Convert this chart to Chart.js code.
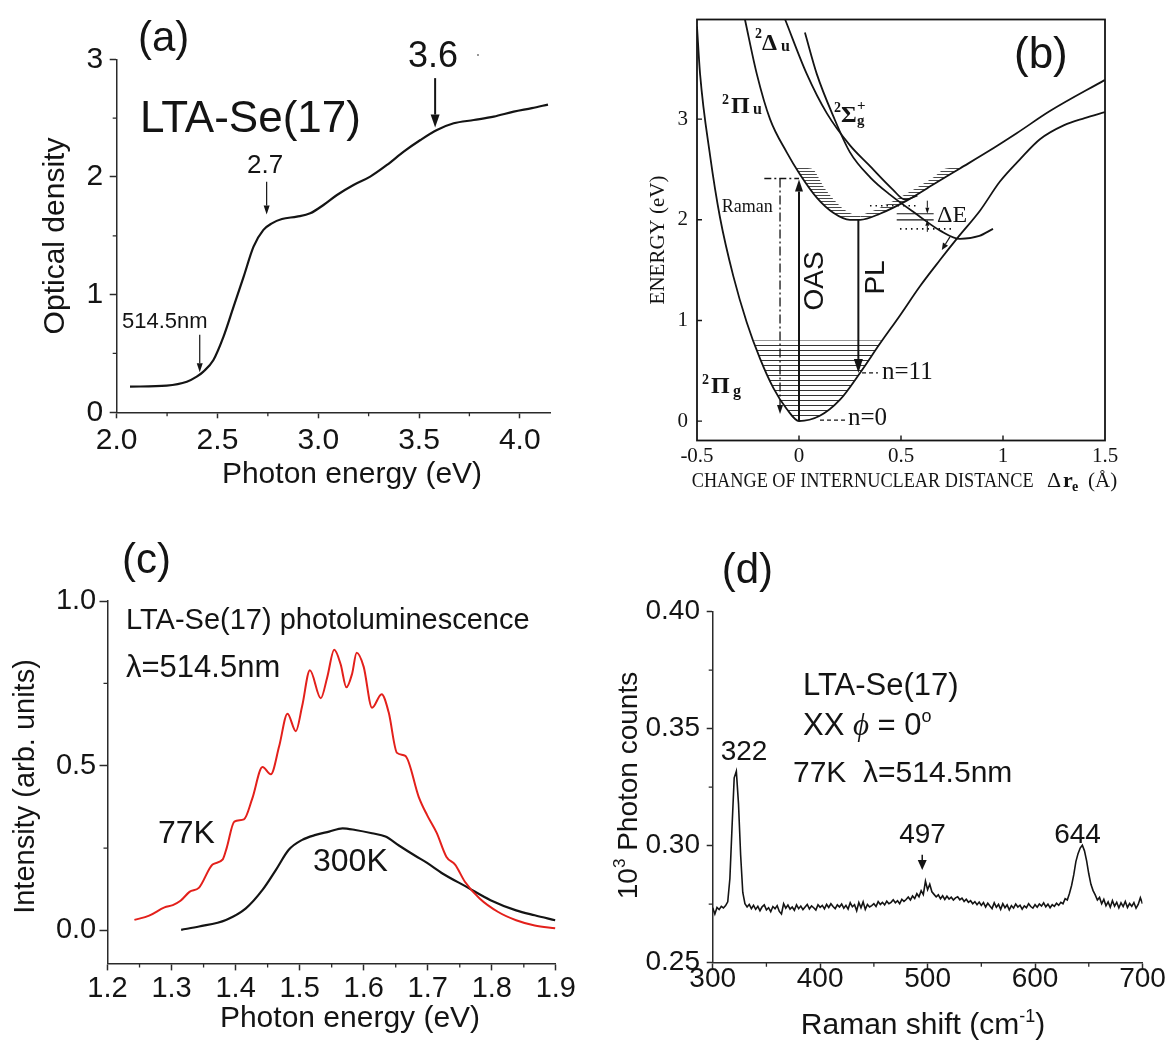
<!DOCTYPE html>
<html>
<head>
<meta charset="utf-8">
<title>LTA-Se(17) optical spectra</title>
<script src="https://cdn.jsdelivr.net/npm/chart.js@4.4.1/dist/chart.umd.min.js"></script>
<style>
  body { margin: 0; background: #fff; }
  #page { position: relative; width: 1169px; height: 1040px; overflow: hidden; background: #fff; }
  canvas { position: absolute; }
</style>
</head>
<body>
<div id="page">
  <canvas id="panelA" width="580" height="540" style="left:0;top:0"></canvas>
  <canvas id="panelB" width="579" height="540" style="left:590px;top:0"></canvas>
  <canvas id="panelC" width="580" height="500" style="left:0;top:540px"></canvas>
  <canvas id="panelD" width="589" height="500" style="left:580px;top:540px"></canvas>
</div>
<script>
// (a) optical absorption
const absEnergy = [2.066, 2.248, 2.348, 2.397, 2.43, 2.48, 2.53, 2.58, 2.63, 2.679, 2.728, 2.77, 2.82, 2.894, 2.96, 3.026, 3.093, 3.175, 3.258, 3.341, 3.424, 3.507, 3.589, 3.672, 3.772, 3.871, 3.97, 4.06, 4.14];
const absDensity = [0.218, 0.227, 0.26, 0.303, 0.346, 0.445, 0.643, 0.898, 1.153, 1.408, 1.55, 1.606, 1.643, 1.663, 1.691, 1.762, 1.847, 1.932, 2.003, 2.102, 2.215, 2.314, 2.399, 2.456, 2.484, 2.513, 2.555, 2.585, 2.615];
const absTicksX = [2.0, 2.5, 3.0, 3.5, 4.0];
const absMinorX = [2.25, 2.75, 3.25, 3.75];
const absTicksY = [0, 1, 2, 3];
const absMinorY = [0.5, 1.5, 2.5];
const absMarkAt = [3.58, 2.744, 2.412];
const absMarkFrom = [2.84, 1.96, 0.66];
const absMarkTo = [2.42, 1.68, 0.34];

// (b) potential curves, Δr_e (Å) vs energy (eV)
const pigR = [-0.5, -0.485, -0.436, -0.387, -0.322, -0.256, -0.191, -0.126, -0.06, 0, 0.1, 0.2, 0.299, 0.397, 0.495, 0.593, 0.691, 0.781, 0.887, 0.985, 1.083, 1.181, 1.3, 1.4, 1.5];
const pigE = [3.92, 3.45, 2.64, 2.02, 1.44, 0.98, 0.62, 0.33, 0.12, 0, 0.05, 0.21, 0.478, 0.77, 1.05, 1.34, 1.6, 1.83, 2.09, 2.38, 2.6, 2.8, 2.94, 3.01, 3.07];
const piuR = [-0.265, -0.207, -0.142, -0.06, 0.005, 0.087, 0.168, 0.25, 0.3, 0.397, 0.528, 0.658, 0.789, 0.92, 1.067, 1.23, 1.5];
const piuE = [3.99, 3.45, 3.0, 2.67, 2.45, 2.22, 2.07, 2.0, 2.0, 2.06, 2.19, 2.35, 2.51, 2.67, 2.86, 3.08, 3.39];
const deltaR = [-0.068, 0.038, 0.136, 0.25, 0.34, 0.46, 0.52, 0.58];
const deltaE = [3.99, 3.45, 3.06, 2.74, 2.55, 2.3, 2.2, 2.24];
const sigmaR = [0.029, 0.087, 0.168, 0.25, 0.35, 0.446, 0.58, 0.694, 0.789, 0.884, 0.951];
const sigmaE = [3.86, 3.45, 3.03, 2.67, 2.42, 2.25, 2.05, 1.89, 1.81, 1.84, 1.91];
const wellR = [-0.2235, -0.191, -0.126, -0.06, 0, 0.1, 0.2, 0.299, 0.397, 0.408];
const wellE = [0.8, 0.62, 0.33, 0.12, 0, 0.05, 0.21, 0.478, 0.77, 0.8];
const bandLeftR = [-0.01, 0.005, 0.087, 0.168, 0.25, 0.3];
const bandLeftE = [2.49, 2.45, 2.22, 2.07, 2.0, 2.0];
const bandLeftInR = [-0.01, 0.06, 0.13, 0.21, 0.27, 0.3];
const bandLeftInE = [2.52, 2.51, 2.3, 2.12, 2.05, 2.04];
const bandRightR = [0.3, 0.397, 0.528, 0.658, 0.789];
const bandRightE = [2.0, 2.06, 2.19, 2.35, 2.51];
const bandRightInR = [0.3, 0.397, 0.528, 0.658, 0.72, 0.789];
const bandRightInE = [2.04, 2.12, 2.26, 2.42, 2.51, 2.52];
const stateTicksX = [-0.5, 0, 0.5, 1, 1.5];
const stateInnerX = [0, 0.5, 1];
const stateTicksY = [0, 1, 2, 3];
const oasPath = [[0, 0], [0, 2.40]];
const plPath = [[0.291, 2.0], [0.291, 0.478]];
const ramanPath = [[-0.093, 2.41], [-0.093, 0.07]];
const ramanLevel = [[-0.17, 2.41], [0, 2.41]];
const n11Mark = [[0.309, 0.478], [0.387, 0.478]];
const n0Mark = [[0.103, 0.01], [0.235, 0.01]];
const gapLevels = [2.06, 2.0];
const gapSpan = [0.479, 0.66];
const dottedLevels = [[0.348, 0.577, 2.14], [0.495, 0.755, 1.91]];

// (c) photoluminescence
const pl77Energy = [1.242, 1.265, 1.289, 1.302, 1.314, 1.328, 1.343, 1.364, 1.380, 1.386, 1.398, 1.413, 1.426, 1.442, 1.455, 1.468, 1.481, 1.494, 1.504, 1.516, 1.533, 1.543, 1.554, 1.564, 1.573, 1.582, 1.589, 1.600, 1.613, 1.628, 1.639, 1.652, 1.665, 1.686, 1.699, 1.714, 1.729, 1.743, 1.758, 1.781, 1.810, 1.838, 1.867, 1.899];
const pl77Intensity = [0.032, 0.045, 0.070, 0.077, 0.090, 0.117, 0.130, 0.200, 0.216, 0.250, 0.330, 0.337, 0.400, 0.496, 0.474, 0.559, 0.658, 0.605, 0.682, 0.790, 0.705, 0.768, 0.852, 0.808, 0.738, 0.780, 0.843, 0.800, 0.676, 0.717, 0.662, 0.539, 0.530, 0.405, 0.350, 0.296, 0.224, 0.199, 0.148, 0.097, 0.056, 0.031, 0.015, 0.007];
const pl300Energy = [1.315, 1.343, 1.385, 1.416, 1.442, 1.463, 1.483, 1.504, 1.525, 1.546, 1.567, 1.587, 1.613, 1.634, 1.655, 1.681, 1.699, 1.723, 1.760, 1.798, 1.838, 1.867, 1.899];
const pl300Intensity = [0.002, 0.012, 0.032, 0.067, 0.123, 0.184, 0.245, 0.275, 0.290, 0.300, 0.310, 0.305, 0.295, 0.285, 0.258, 0.226, 0.205, 0.173, 0.133, 0.092, 0.061, 0.046, 0.031];
const plTicksX = [1.2, 1.3, 1.4, 1.5, 1.6, 1.7, 1.8, 1.9];
const plMinorX = [1.25, 1.35, 1.45, 1.55, 1.65, 1.75, 1.85];
const plTicksY = [0, 0.5, 1.0];
const plMinorY = [0.25, 0.75];

// (d) Raman
const ramanShift = [
  300, 302, 304, 306, 308, 310, 312, 314, 316, 318, 320, 322, 324, 326, 328, 330, 332, 334, 336, 338,
  340, 342, 344, 346, 348, 350, 352, 354, 356, 358, 360, 362, 364, 366, 368, 370, 372, 374, 376, 378,
  380, 382, 384, 386, 388, 390, 392, 394, 396, 398, 400, 402, 404, 406, 408, 410, 412, 414, 416, 418,
  420, 422, 424, 426, 428, 430, 432, 434, 436, 438, 440, 442, 444, 446, 448, 450, 452, 454, 456, 458,
  460, 462, 464, 466, 468, 470, 472, 474, 476, 478, 480, 482, 484, 486, 488, 490, 492, 494, 496, 498,
  500, 502, 504, 506, 508, 510, 512, 514, 516, 518, 520, 522, 524, 526, 528, 530, 532, 534, 536, 538,
  540, 542, 544, 546, 548, 550, 552, 554, 556, 558, 560, 562, 564, 566, 568, 570, 572, 574, 576, 578,
  580, 582, 584, 586, 588, 590, 592, 594, 596, 598, 600, 602, 604, 606, 608, 610, 612, 614, 616, 618,
  620, 622, 624, 626, 628, 630, 632, 634, 636, 638, 640, 642, 644, 646, 648, 650, 652, 654, 656, 658,
  660, 662, 664, 666, 668, 670, 672, 674, 676, 678, 680, 682, 684, 686, 688, 690, 692, 694, 696, 698,
  700
];
const ramanCounts = [
  0.2735, 0.2708, 0.2736, 0.2727, 0.2741, 0.2734, 0.2744, 0.2760, 0.2860, 0.3080,
  0.3290, 0.3318, 0.3180, 0.2960, 0.2800, 0.2752, 0.2738, 0.2749, 0.2731, 0.2745,
  0.2728, 0.2741, 0.2722, 0.2739, 0.2747, 0.2726, 0.2735, 0.2718, 0.2740, 0.2731,
  0.2744, 0.2719, 0.2708, 0.2752, 0.2733, 0.2746, 0.2729, 0.2738, 0.2724, 0.2747,
  0.2731, 0.2742, 0.2727, 0.2738, 0.2749, 0.2730, 0.2743, 0.2735, 0.2725, 0.2748,
  0.2737, 0.2745, 0.2730, 0.2749, 0.2736, 0.2752, 0.2740, 0.2731, 0.2747, 0.2738,
  0.2751, 0.2733, 0.2745, 0.2729, 0.2756, 0.2739, 0.2748, 0.2722, 0.2757, 0.2735,
  0.2760, 0.2728, 0.2749, 0.2738, 0.2744, 0.2752, 0.2740, 0.2761, 0.2749, 0.2758,
  0.2747, 0.2763, 0.2752, 0.2758, 0.2769, 0.2756, 0.2765, 0.2752, 0.2771, 0.2762,
  0.2770, 0.2781, 0.2768, 0.2785, 0.2774, 0.2795, 0.2782, 0.2808, 0.2791, 0.2848,
  0.2812, 0.2835, 0.2803, 0.2792, 0.2781, 0.2790, 0.2773, 0.2786, 0.2770, 0.2784,
  0.2772, 0.2780, 0.2768, 0.2777, 0.2782, 0.2769, 0.2776, 0.2762, 0.2771, 0.2758,
  0.2765, 0.2752, 0.2761, 0.2748, 0.2759, 0.2745, 0.2757, 0.2738, 0.2754, 0.2742,
  0.2731, 0.2756, 0.2737, 0.2749, 0.2728, 0.2752, 0.2735, 0.2747, 0.2726, 0.2744,
  0.2733, 0.2751, 0.2738, 0.2746, 0.2729, 0.2743, 0.2735, 0.2752, 0.2740, 0.2733,
  0.2748, 0.2737, 0.2751, 0.2742, 0.2756, 0.2739, 0.2750, 0.2735, 0.2748, 0.2741,
  0.2754, 0.2745, 0.2758, 0.2752, 0.2774, 0.2768, 0.2796, 0.2830, 0.2875, 0.2932,
  0.2966, 0.2990, 0.3002, 0.2978, 0.2935, 0.2880, 0.2835, 0.2808, 0.2790, 0.2768,
  0.2779, 0.2752, 0.2771, 0.2743, 0.2760, 0.2737, 0.2765, 0.2742, 0.2758, 0.2734,
  0.2756, 0.2740, 0.2762, 0.2736, 0.2753, 0.2741, 0.2757, 0.2733, 0.2749, 0.2778,
  0.2752
];
const ramanTicksX = [300, 400, 500, 600, 700];
const ramanMinorX = [350, 450, 550, 650];
const ramanTicksY = [0.25, 0.30, 0.35, 0.40];
const ramanMinorY = [0.275, 0.325, 0.375];
const ramanArrowAt = 495;
const ramanArrowSpan = [0.2961, 0.2896];

const INK = '#141414';
const AXIS = '#2a2a2a';
const RED = '#e3201b';
const CLEAR = 'rgba(0,0,0,0)';
const SANS = "'Liberation Sans', Arial, sans-serif";
const SERIF = "'Liberation Serif', 'Times New Roman', serif";

function pts(xs, ys) {
  return xs.map(function (x, i) { return { x: x, y: ys[i] }; });
}

function curve(xs, ys, color, width, extra) {
  return Object.assign({
    data: pts(xs, ys),
    showLine: true,
    borderColor: color,
    borderWidth: width,
    pointRadius: 0,
    pointHoverRadius: 0,
    fill: false,
    cubicInterpolationMode: 'monotone'
  }, extra || {});
}

function axis(o) {
  return {
    type: 'linear',
    min: o.min,
    max: o.max,
    afterFit: function (scale) {
      if (scale.isHorizontal()) scale.height = o.size; else scale.width = o.size;
    },
    afterBuildTicks: function (scale) {
      scale.ticks = o.ticks.map(function (v) { return { value: v }; });
    },
    grid: { display: o.tick > 0, drawOnChartArea: false, tickLength: o.tick, tickColor: AXIS, tickWidth: 1.5 },
    border: { display: o.border !== false, color: AXIS, width: 1.5 },
    ticks: { color: INK, font: o.font, padding: o.pad, autoSkip: false, maxRotation: 0, callback: o.fmt }
  };
}

function options(pad, xAxis, yAxis) {
  return {
    responsive: false,
    animation: false,
    events: [],
    layout: { padding: pad },
    plugins: { legend: { display: false }, tooltip: { enabled: false } },
    scales: { x: xAxis, y: yAxis }
  };
}

function hatch(gap, color) {
  const c = document.createElement('canvas');
  c.width = 4;
  c.height = gap;
  const g = c.getContext('2d');
  g.fillStyle = color;
  g.fillRect(0, 0, 4, 1);
  return g.createPattern(c, 'repeat');
}

function text(ctx, s, x, y, font, align, color) {
  ctx.font = font;
  ctx.fillStyle = color || INK;
  ctx.textAlign = align || 'left';
  ctx.textBaseline = 'alphabetic';
  ctx.fillText(s, x, y);
}

// parts: [{t, font, dy}] drawn one after another, optionally turned upright
function rich(ctx, parts, x, y, align, vertical) {
  ctx.save();
  ctx.translate(x, y);
  if (vertical) ctx.rotate(-Math.PI / 2);
  let w = 0;
  parts.forEach(function (p) { ctx.font = p.font; p.w = ctx.measureText(p.t).width; w += p.w; });
  let cx = align === 'center' ? -w / 2 : (align === 'right' ? -w : 0);
  parts.forEach(function (p) {
    text(ctx, p.t, cx, p.dy || 0, p.font, 'left');
    cx += p.w;
  });
  ctx.restore();
}

function arrow(ctx, x1, y1, x2, y2, st) {
  const len = st.head, half = st.width / 2;
  const ang = Math.atan2(y2 - y1, x2 - x1);
  const bx = x2 - len * Math.cos(ang), by = y2 - len * Math.sin(ang);
  ctx.save();
  ctx.strokeStyle = INK;
  ctx.fillStyle = INK;
  ctx.lineWidth = st.lw;
  ctx.setLineDash(st.dash || []);
  ctx.beginPath();
  ctx.moveTo(x1, y1);
  ctx.lineTo(bx, by);
  ctx.stroke();
  ctx.setLineDash([]);
  ctx.beginPath();
  ctx.moveTo(x2, y2);
  ctx.lineTo(bx + half * Math.sin(ang), by - half * Math.cos(ang));
  ctx.lineTo(bx - half * Math.sin(ang), by + half * Math.cos(ang));
  ctx.closePath();
  ctx.fill();
  ctx.restore();
}

function segment(ctx, x1, y1, x2, y2, lw, dash) {
  ctx.save();
  ctx.strokeStyle = INK;
  ctx.lineWidth = lw;
  ctx.setLineDash(dash || []);
  ctx.beginPath();
  ctx.moveTo(x1, y1);
  ctx.lineTo(x2, y2);
  ctx.stroke();
  ctx.restore();
}

function minor(ctx, chart, xs, ys, len) {
  const a = chart.chartArea, sx = chart.scales.x, sy = chart.scales.y;
  ctx.save();
  ctx.strokeStyle = AXIS;
  ctx.lineWidth = 1.3;
  ctx.beginPath();
  xs.forEach(function (v) { const p = sx.getPixelForValue(v); ctx.moveTo(p, a.bottom); ctx.lineTo(p, a.bottom + len); });
  ys.forEach(function (v) { const p = sy.getPixelForValue(v); ctx.moveTo(a.left, p); ctx.lineTo(a.left - len, p); });
  ctx.stroke();
  ctx.restore();
}

function drawA(chart) {
  const ctx = chart.ctx, sx = chart.scales.x, sy = chart.scales.y;
  minor(ctx, chart, absMinorX, absMinorY, 4);
  text(ctx, '(a)', 138, 51, '42px ' + SANS);
  text(ctx, 'LTA-Se(17)', 140, 132, '44px ' + SANS);
  text(ctx, '3.6', 408, 67, '36px ' + SANS);
  text(ctx, '·', 478, 60, '18px ' + SANS, 'center', '#888');
  text(ctx, '2.7', 247, 173, '26px ' + SANS);
  text(ctx, '514.5nm', 122, 328, '22px ' + SANS);
  const styles = [{ lw: 2, head: 13, width: 9 }, { lw: 1.2, head: 9, width: 6 }, { lw: 1.2, head: 9, width: 6 }];
  absMarkAt.forEach(function (e, i) {
    const x = sx.getPixelForValue(e);
    arrow(ctx, x, sy.getPixelForValue(absMarkFrom[i]), x, sy.getPixelForValue(absMarkTo[i]), styles[i]);
  });
  text(ctx, 'Photon energy (eV)', 352, 483, '30px ' + SANS, 'center');
  rich(ctx, [{ t: 'Optical density', font: '30px ' + SANS }], 64, 236, 'center', true);
}

function drawB(chart) {
  const ctx = chart.ctx, a = chart.chartArea, sx = chart.scales.x, sy = chart.scales.y;
  const X = function (v) { return sx.getPixelForValue(v); };
  const Y = function (v) { return sy.getPixelForValue(v); };
  ctx.save();
  ctx.strokeStyle = INK;
  ctx.lineWidth = 1.8;
  ctx.strokeRect(a.left, a.top, a.right - a.left, a.bottom - a.top);
  ctx.lineWidth = 1.4;
  ctx.beginPath();
  stateInnerX.forEach(function (v) { ctx.moveTo(X(v), a.bottom); ctx.lineTo(X(v), a.bottom - 5); });
  stateTicksY.forEach(function (v) { ctx.moveTo(a.left, Y(v)); ctx.lineTo(a.left + 5, Y(v)); });
  ctx.stroke();
  ctx.restore();

  arrow(ctx, X(oasPath[0][0]), Y(oasPath[0][1]), X(oasPath[1][0]), Y(oasPath[1][1]), { lw: 2, head: 12, width: 8 });
  arrow(ctx, X(plPath[0][0]), Y(plPath[0][1]), X(plPath[1][0]), Y(plPath[1][1]), { lw: 2, head: 14, width: 9 });
  arrow(ctx, X(ramanPath[0][0]), Y(ramanPath[0][1]), X(ramanPath[1][0]), Y(ramanPath[1][1]), { lw: 1.3, head: 9, width: 6, dash: [9, 3, 2, 3] });
  segment(ctx, X(ramanLevel[0][0]), Y(ramanLevel[0][1]), X(ramanLevel[1][0]), Y(ramanLevel[1][1]), 1.3, [7, 3, 2, 3]);
  segment(ctx, X(n11Mark[0][0]), Y(n11Mark[0][1]), X(n11Mark[1][0]), Y(n11Mark[1][1]), 1.3, [4, 3]);
  segment(ctx, X(n0Mark[0][0]), Y(n0Mark[0][1]), X(n0Mark[1][0]), Y(n0Mark[1][1]), 1.3, [4, 3]);
  gapLevels.forEach(function (e) { segment(ctx, X(gapSpan[0]), Y(e), X(gapSpan[1]), Y(e), 1.2); });
  arrow(ctx, X(0.629), Y(2.19), X(0.629), Y(gapLevels[0]), { lw: 1, head: 6, width: 4 });
  arrow(ctx, X(0.629), Y(1.88), X(0.629), Y(gapLevels[1]), { lw: 1, head: 6, width: 4 });
  dottedLevels.forEach(function (d) { segment(ctx, X(d[0]), Y(d[2]), X(d[1]), Y(d[2]), 1.6, [1.5, 4]); });
  arrow(ctx, X(0.74), Y(1.83), X(0.70), Y(1.70), { lw: 1.2, head: 7, width: 6 });

  text(ctx, '(b)', 424, 68, '44px ' + SANS);
  text(ctx, '2', 165, 38, 'bold 14px ' + SERIF);
  text(ctx, 'Δ', 172, 50, 'bold 24px ' + SERIF);
  text(ctx, 'u', 191, 51, 'bold 16px ' + SERIF);
  text(ctx, '2', 132, 104, 'bold 14px ' + SERIF);
  text(ctx, 'Π', 141, 113, 'bold 24px ' + SERIF);
  text(ctx, 'u', 163, 114, 'bold 16px ' + SERIF);
  text(ctx, '2', 244, 112, 'bold 14px ' + SERIF);
  text(ctx, 'Σ', 251, 122, 'bold 24px ' + SERIF);
  text(ctx, '+', 267, 110, 'bold 15px ' + SERIF);
  text(ctx, 'g', 267, 125, 'bold 15px ' + SERIF);
  text(ctx, '2', 112, 384, 'bold 14px ' + SERIF);
  text(ctx, 'Π', 121, 393, 'bold 24px ' + SERIF);
  text(ctx, 'g', 143, 396, 'bold 16px ' + SERIF);
  text(ctx, 'Raman', 131.7, 212, '18px ' + SERIF);
  rich(ctx, [{ t: 'OAS', font: '28px ' + SANS }], 233, 281, 'center', true);
  rich(ctx, [{ t: 'PL', font: '28px ' + SANS }], 294, 277.5, 'center', true);
  text(ctx, 'n=11', 292, 379, '25px ' + SERIF);
  text(ctx, 'n=0', 258, 425, '25px ' + SERIF);
  text(ctx, 'ΔE', 347, 222, '24px ' + SERIF);

  rich(ctx, [{ t: 'ENERGY (eV)', font: '21px ' + SERIF }], 74, 240, 'center', true);
  ctx.save();
  ctx.translate(101.7, 486.7);
  ctx.scale(0.83, 1);
  text(ctx, 'CHANGE OF INTERNUCLEAR DISTANCE', 0, 0, '22px ' + SERIF);
  ctx.restore();
  text(ctx, 'Δ', 457, 486.7, '22px ' + SERIF);
  text(ctx, 'r', 473, 486.7, 'bold 22px ' + SERIF);
  text(ctx, 'e', 482, 491, 'bold 14px ' + SERIF);
  text(ctx, '(Å)', 498, 486.7, '21px ' + SERIF);
}

function drawC(chart) {
  const ctx = chart.ctx;
  minor(ctx, chart, plMinorX, plMinorY, 4);
  text(ctx, '(c)', 122, 33, '42px ' + SANS);
  text(ctx, 'LTA-Se(17) photoluminescence', 126, 89, '29px ' + SANS);
  text(ctx, 'λ=514.5nm', 126, 137, '31px ' + SANS);
  text(ctx, '77K', 158, 303, '32px ' + SANS);
  text(ctx, '300K', 313, 331, '32px ' + SANS);
  text(ctx, 'Photon energy (eV)', 350, 487, '30px ' + SANS, 'center');
  rich(ctx, [{ t: 'Intensity (arb. units)', font: '29px ' + SANS }], 34, 246.5, 'center', true);
}

function drawD(chart) {
  const ctx = chart.ctx, sx = chart.scales.x, sy = chart.scales.y;
  minor(ctx, chart, ramanMinorX, ramanMinorY, 4);
  text(ctx, '(d)', 141.7, 43, '42px ' + SANS);
  text(ctx, 'LTA-Se(17)', 223, 155, '31px ' + SANS);
  rich(ctx, [
    { t: 'XX ', font: '31px ' + SANS },
    { t: 'ϕ', font: 'italic 31px ' + SERIF },
    { t: ' = 0', font: '31px ' + SANS },
    { t: 'o', font: '18px ' + SANS, dy: -13 }
  ], 223, 195, 'left');
  text(ctx, '77K  λ=514.5nm', 213, 242, '30px ' + SANS);
  text(ctx, '322', 164, 220, '28px ' + SANS, 'center');
  text(ctx, '497', 342.5, 303, '28px ' + SANS, 'center');
  text(ctx, '644', 497.5, 303, '28px ' + SANS, 'center');
  const ax = sx.getPixelForValue(ramanArrowAt);
  arrow(ctx, ax, sy.getPixelForValue(ramanArrowSpan[0]), ax, sy.getPixelForValue(ramanArrowSpan[1]), { lw: 1.5, head: 10, width: 9 });
  rich(ctx, [
    { t: 'Raman shift (cm', font: '30px ' + SANS },
    { t: '-1', font: '18px ' + SANS, dy: -12 },
    { t: ')', font: '30px ' + SANS }
  ], 343, 494, 'center');
  rich(ctx, [
    { t: '10', font: '28px ' + SANS },
    { t: '3', font: '17px ' + SANS, dy: -12 },
    { t: ' Photon counts', font: '28px ' + SANS }
  ], 57, 245.5, 'center', true);
}

const fineHatch = hatch(3, '#4a4a4a');
const wellHatch = hatch(5, '#333');

new Chart(document.getElementById('panelA'), {
  type: 'scatter',
  data: { datasets: [curve(absEnergy, absDensity, INK, 2.2)] },
  options: options({ top: 59.3, right: 30, left: 0, bottom: 0 },
    axis({ min: 2, max: 4.15, size: 127.7, ticks: absTicksX, tick: 6, pad: 7, font: { family: SANS, size: 30, lineHeight: 1 }, fmt: function (v) { return v.toFixed(1); } }),
    axis({ min: 0, max: 3, size: 116.7, ticks: absTicksY, tick: 7, pad: 6.5, font: { family: SANS, size: 30, lineHeight: 1 }, fmt: function (v) { return String(v); } })),
  plugins: [{ id: 'notesA', afterDraw: drawA }]
});

new Chart(document.getElementById('panelB'), {
  type: 'scatter',
  data: {
    datasets: [
      curve(pigR, pigE, INK, 1.8),
      curve(piuR, piuE, INK, 1.8),
      curve(deltaR, deltaE, INK, 1.8),
      curve(sigmaR, sigmaE, INK, 1.8),
      curve(wellR, wellE, CLEAR, 1, { fill: { value: 0.8 }, backgroundColor: wellHatch }),
      curve(bandLeftR, bandLeftE, CLEAR, 1),
      curve(bandLeftInR, bandLeftInE, CLEAR, 1, { fill: '-1', backgroundColor: fineHatch }),
      curve(bandRightR, bandRightE, CLEAR, 1),
      curve(bandRightInR, bandRightInE, CLEAR, 1, { fill: '-1', backgroundColor: fineHatch })
    ]
  },
  options: options({ top: 11.7, right: 64, left: 0, bottom: 0 },
    axis({ min: -0.5, max: 1.5, size: 99.5, ticks: stateTicksX, tick: 0, pad: 5.3, border: false, font: { family: SERIF, size: 21, lineHeight: 1 }, fmt: function (v) { return String(v); } }),
    axis({ min: -0.193, max: 3.99, size: 107, ticks: stateTicksY, tick: 0, pad: 9, border: false, font: { family: SERIF, size: 21, lineHeight: 1 }, fmt: function (v) { return String(v); } })),
  plugins: [{ id: 'notesB', afterDraw: drawB }]
});

new Chart(document.getElementById('panelC'), {
  type: 'scatter',
  data: {
    datasets: [
      curve(pl77Energy, pl77Intensity, RED, 2),
      curve(pl300Energy, pl300Intensity, INK, 2.2)
    ]
  },
  options: options({ top: 61, right: 22.5, left: 0, bottom: 0 },
    axis({ min: 1.2, max: 1.9, size: 76.6, ticks: plTicksX, tick: 7, pad: 4, font: { family: SANS, size: 29, lineHeight: 1 }, fmt: function (v) { return v.toFixed(1); } }),
    axis({ min: -0.1, max: 1.0, size: 107.5, ticks: plTicksY, tick: 8, pad: 3.3, font: { family: SANS, size: 29, lineHeight: 1 }, fmt: function (v) { return v.toFixed(1); } })),
  plugins: [{ id: 'notesC', afterDraw: drawC }]
});

new Chart(document.getElementById('panelD'), {
  type: 'scatter',
  data: {
    datasets: [curve(ramanShift, ramanCounts, INK, 1.6, { cubicInterpolationMode: 'default', tension: 0 })]
  },
  options: options({ top: 71.7, right: 26.5, left: 0, bottom: 0 },
    axis({ min: 300, max: 700, size: 77.3, ticks: ramanTicksX, tick: 6, pad: -3, font: { family: SANS, size: 28, lineHeight: 1 }, fmt: function (v) { return String(v); } }),
    axis({ min: 0.25, max: 0.40, size: 132.7, ticks: ramanTicksY, tick: 6, pad: 6.7, font: { family: SANS, size: 28, lineHeight: 1 }, fmt: function (v) { return v.toFixed(2); } })),
  plugins: [{ id: 'notesD', afterDraw: drawD }]
});
</script>
</body>
</html>
